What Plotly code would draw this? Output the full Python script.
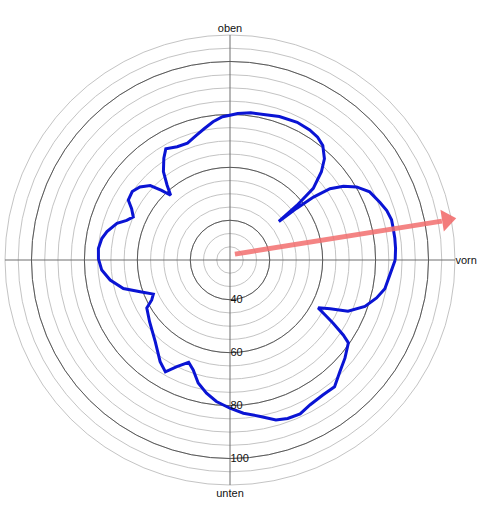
import plotly.graph_objects as go

# ---- data ----
angles_deg = [0, 4, 7.5, 11, 14, 17.5, 21, 26, 30, 33,
              35.5, 37, 37.8, 38.3, 39.2, 40.7, 44, 47, 51, 54.5,
              58.5, 64, 71, 77, 82, 87, 90, 93, 97, 101,
              105, 110, 115, 120, 123, 127, 130, 132.5, 134.5, 137,
              141, 145, 149.5, 152.5, 156, 159, 162, 167, 170.5, 175,
              179.5, 184.5, 189.5, 195, 199.5, 204, 207, 210, 217.5, 227.5,
              235.5, 240, 243.5, 248, 251.5, 255.5, 260, 264.5, 270, 275,
              281, 286, 290, 294.5, 299, 304.5, 309.5, 314.5, 319.5, 325,
              326.5, 328.5, 330, 331.5, 334, 336.5, 341, 345.5, 349.5, 354.5,
              360]
level_db = [87.4, 87.7, 87.8, 87.8, 87.9, 87.1, 85.7, 83.7, 80.2, 76.1,
            71.4, 64.5, 56.8, 48.5, 57.6, 66.5, 73.0, 77.3, 80.7, 82.0,
            82.6, 82.9, 82.3, 81.4, 81.2, 80.4, 79.7, 79.2, 77.6, 75.6,
            73.8, 72.0, 72.2, 73.5, 70.9, 66.8, 62.0, 58.2, 61.9, 66.2,
            68.8, 70.1, 69.6, 66.9, 65.0, 66.8, 69.9, 72.7, 74.1, 74.9,
            74.7, 73.6, 70.9, 66.7, 61.0, 56.7, 58.2, 61.3, 63.3, 66.8,
            71.6, 73.8, 70.0, 66.7, 68.8, 73.0, 76.1, 78.7, 81.0, 83.1,
            85.2, 87.9, 88.7, 88.9, 87.5, 86.9, 87.1, 84.2, 82.1, 79.6,
            76.3, 70.7, 66.4, 62.9, 67.1, 73.6, 78.9, 82.2, 84.5, 85.6,
            87.4]

arrow_theta = [50, 10.4]
arrow_r = [27.9, 106.4]
arrow_head_theta = [10.5]
arrow_head_r = [108.3]
arrow_head_angle = -9

radial_range = [25, 110]
minor_rings = [30, 35, 40, 45, 50, 55, 60, 65, 70, 75, 80, 85, 90, 95, 100, 105, 110]
major_rings = [40, 60, 80, 100]
major_labels = ["40", "60", "80", "100"]
dir_vals = [0, 90, 180, 270]
dir_labels = ["vorn", "oben", "", "unten"]

FONT = "Liberation Sans, Arial, sans-serif"
LIGHT = "#c4c4c4"
DARK = "#5a5a5a"

fig = go.Figure()

# empty trace so that the background polar (light rings) is drawn
fig.add_trace(go.Scatterpolar(
    r=[None], theta=[None], mode="lines", subplot="polar",
    hoverinfo="skip", showlegend=False))

fig.add_trace(go.Scatterpolar(
    r=level_db, theta=angles_deg, mode="lines",
    line=dict(color="#0a14d4", width=3), subplot="polar2",
    hoverinfo="skip", showlegend=False))

fig.add_trace(go.Scatterpolar(
    r=arrow_r, theta=arrow_theta, mode="lines",
    line=dict(color="rgba(242,110,110,0.85)", width=5), subplot="polar2",
    hoverinfo="skip", showlegend=False, cliponaxis=False))

fig.add_trace(go.Scatterpolar(
    r=arrow_head_r, theta=arrow_head_theta, mode="markers",
    marker=dict(symbol="triangle-right", size=19, angle=arrow_head_angle,
                color="rgba(242,110,110,0.9)", line=dict(width=0)),
    subplot="polar2", hoverinfo="skip", showlegend=False, cliponaxis=False))

dom = dict(x=[0, 1], y=[0, 1])

fig.update_layout(
    width=490, height=519,
    margin=dict(l=5, r=35, t=35, b=34),
    paper_bgcolor="white",
    font=dict(family=FONT, size=11, color="#222"),
    showlegend=False,
    polar=dict(
        domain=dom, bgcolor="white",
        radialaxis=dict(range=radial_range, tickvals=minor_rings, showticklabels=False,
                        ticks="", showline=False, gridcolor=LIGHT, gridwidth=1, angle=270),
        angularaxis=dict(showgrid=False, showticklabels=False, ticks="",
                         showline=True, linecolor=LIGHT, linewidth=1),
    ),
    polar2=dict(
        domain=dom, bgcolor="rgba(0,0,0,0)",
        radialaxis=dict(range=radial_range, tickvals=major_rings, ticktext=major_labels,
                        ticks="", showline=False, gridcolor=DARK, gridwidth=1,
                        angle=270, side="counterclockwise", tickangle=-90,
                        tickfont=dict(family=FONT, size=11, color="#111")),
        angularaxis=dict(tickvals=dir_vals, ticktext=dir_labels, ticks="",
                         showline=False, gridcolor="#6e6e6e", gridwidth=1,
                         direction="counterclockwise", rotation=0,
                         tickfont=dict(family=FONT, size=11, color="#111")),
    ),
)

fig.write_html("out.html", config={"displayModeBar": False},
               post_script="document.body.style.margin='0';")
